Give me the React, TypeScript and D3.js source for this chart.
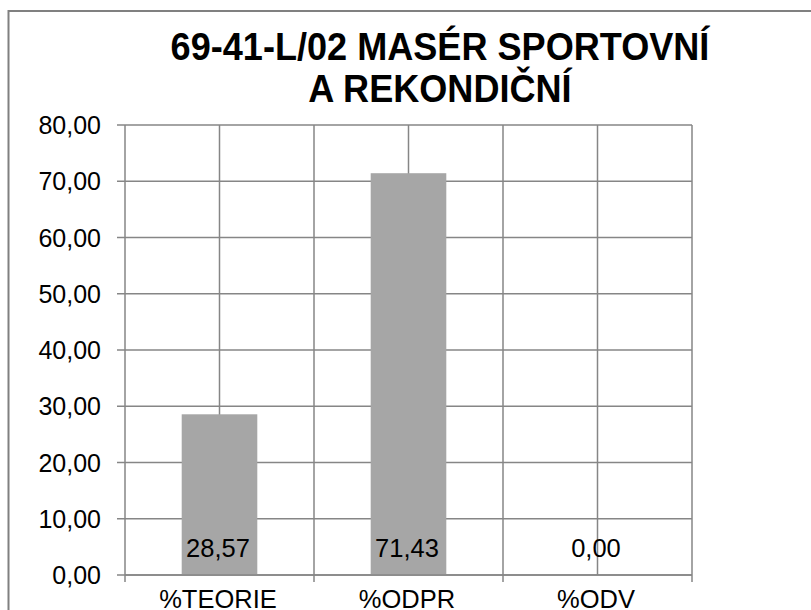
import React from "react";
import * as d3 from "d3";

const title = ["69-41-L/02 MASÉR SPORTOVNÍ", "A REKONDIČNÍ"];
const categories = ["%TEORIE", "%ODPR", "%ODV"];
const values = [28.57, 71.43, 0.0];
const yTicks = [0, 10, 20, 30, 40, 50, 60, 70, 80];

const W = 811;
const H = 610;
const plot = { left: 125, right: 692, top: 125, bottom: 575 };
const grid = "#868686";
const fmt = (v: number) => v.toFixed(2).replace(".", ",");

export default function App() {
  const x = d3
    .scaleBand<string>()
    .domain(categories)
    .range([plot.left, plot.right])
    .paddingInner(0)
    .paddingOuter(0);
  const y = d3.scaleLinear().domain([0, 80]).range([plot.bottom, plot.top]);
  const bw = x.bandwidth() * 0.4;
  const font = "'Liberation Sans', Arial, sans-serif";

  const vLines: number[] = [plot.left];
  categories.forEach((c) => {
    vLines.push((x(c) as number) + x.bandwidth() / 2);
    vLines.push((x(c) as number) + x.bandwidth());
  });

  return (
    <svg
      width={W}
      height={H}
      style={{ position: "absolute", left: 0, top: 0, background: "#fff" }}
      fontFamily={font}
    >
      <rect x={0} y={0} width={W} height={H} fill="#fff" />
      <rect x={8.5} y={11} width={900} height={700} fill="#fff" stroke="#808080" strokeWidth={2} />
      {title.map((t, i) => (
        <text
          key={i}
          transform={`translate(440, ${59.5 + i * 42.5}) scale(0.95,1)`}
          textAnchor="middle"
          fontSize={38}
          fontWeight="bold"
          fill="#000"
        >
          {t}
        </text>
      ))}
      {/* horizontal gridlines and y ticks */}
      {yTicks.map((t) => (
        <g key={t}>
          <line x1={117} x2={plot.right} y1={y(t)} y2={y(t)} stroke={grid} strokeWidth={1.5} />
          <text x={101} y={y(t) + 9} textAnchor="end" fontSize={25} fill="#000">
            {fmt(t)}
          </text>
        </g>
      ))}
      {/* vertical gridlines */}
      {vLines.map((vx, i) => (
        <line
          key={i}
          x1={vx}
          x2={vx}
          y1={plot.top}
          y2={i % 2 === 0 ? 582 : plot.bottom}
          stroke={grid}
          strokeWidth={1.5}
        />
      ))}
      {/* bars */}
      {categories.map((c, i) => {
        const cx = (x(c) as number) + x.bandwidth() / 2;
        return (
          <g key={c}>
            <rect
              x={cx - bw / 2}
              y={y(values[i])}
              width={bw}
              height={y(0) - y(values[i])}
              fill="#A6A6A6"
            />
          </g>
        );
      })}
      <line x1={plot.left} x2={plot.right} y1={y(0)} y2={y(0)} stroke={grid} strokeWidth={1.5} />
      {categories.map((c, i) => {
        const cx = (x(c) as number) + x.bandwidth() / 2 - 1.5;
        return (
          <g key={c + "l"}>
            <text x={cx} y={557} textAnchor="middle" fontSize={25.5} fill="#000">
              {fmt(values[i])}
            </text>
            <text x={cx} y={608} textAnchor="middle" fontSize={25.5} fill="#000">
              {c}
            </text>
          </g>
        );
      })}
    </svg>
  );
}
